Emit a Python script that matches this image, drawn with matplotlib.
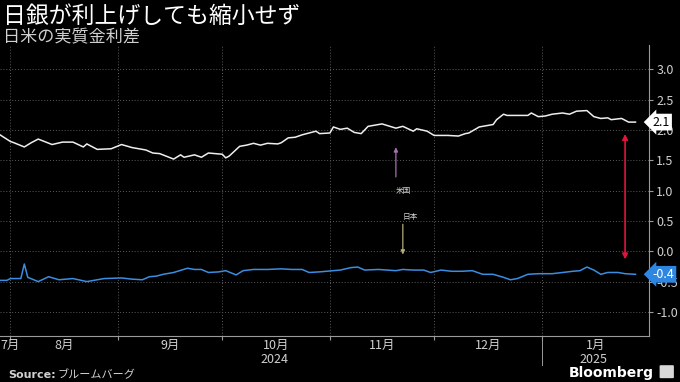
import pandas as pd
import numpy as np
import matplotlib.pyplot as plt
import matplotlib.patches as mpatches
import matplotlib.transforms as mtransforms

plt.rcParams['font.family'] = ['Noto Sans CJK JP', 'DejaVu Sans']

# US real rate (white line)
us_dates = ['2024-07-29', '2024-08-01', '2024-08-02', '2024-08-05', '2024-08-07', '2024-08-09',
            '2024-08-13', '2024-08-16', '2024-08-19', '2024-08-22', '2024-08-23', '2024-08-26',
            '2024-08-30', '2024-09-02', '2024-09-05', '2024-09-09', '2024-09-11', '2024-09-13',
            '2024-09-17', '2024-09-19', '2024-09-20', '2024-09-23', '2024-09-25', '2024-09-27',
            '2024-10-01', '2024-10-02', '2024-10-03', '2024-10-06', '2024-10-08', '2024-10-10',
            '2024-10-12', '2024-10-14', '2024-10-17', '2024-10-18', '2024-10-20', '2024-10-22',
            '2024-10-24', '2024-10-28', '2024-10-29', '2024-11-01', '2024-11-02', '2024-11-04',
            '2024-11-06', '2024-11-08', '2024-11-10', '2024-11-12', '2024-11-16', '2024-11-20',
            '2024-11-22', '2024-11-25', '2024-11-26', '2024-11-29', '2024-12-01', '2024-12-05',
            '2024-12-08', '2024-12-10', '2024-12-11', '2024-12-14', '2024-12-18', '2024-12-19',
            '2024-12-21', '2024-12-22', '2024-12-25', '2024-12-28', '2024-12-29', '2024-12-31',
            '2025-01-02', '2025-01-04', '2025-01-07', '2025-01-09', '2025-01-11', '2025-01-14',
            '2025-01-16', '2025-01-18', '2025-01-20', '2025-01-21', '2025-01-24', '2025-01-26',
            '2025-01-28']
us_values = [1.92, 1.81, 1.79, 1.72, 1.79, 1.85, 1.76, 1.80, 1.80, 1.72, 1.77, 1.68,
             1.69, 1.76, 1.71, 1.67, 1.62, 1.61, 1.52, 1.59, 1.55, 1.59, 1.55, 1.62,
             1.60, 1.54, 1.57, 1.73, 1.75, 1.78, 1.75, 1.78, 1.77, 1.79, 1.87, 1.88,
             1.92, 1.98, 1.94, 1.95, 2.05, 2.01, 2.03, 1.96, 1.94, 2.06, 2.10, 2.03,
             2.06, 1.98, 2.02, 1.98, 1.91, 1.91, 1.90, 1.94, 1.95, 2.05, 2.09, 2.17,
             2.26, 2.24, 2.24, 2.24, 2.28, 2.22, 2.23, 2.26, 2.28, 2.26, 2.31, 2.32,
             2.22, 2.19, 2.20, 2.17, 2.19, 2.13, 2.13]

# Japan real rate (blue line)
jp_dates = ['2024-07-29', '2024-07-31', '2024-08-01', '2024-08-04', '2024-08-05', '2024-08-06',
            '2024-08-09', '2024-08-12', '2024-08-15', '2024-08-19', '2024-08-23', '2024-08-28',
            '2024-09-02', '2024-09-05', '2024-09-08', '2024-09-10', '2024-09-12', '2024-09-14',
            '2024-09-17', '2024-09-21', '2024-09-23', '2024-09-25', '2024-09-27', '2024-09-30',
            '2024-10-02', '2024-10-05', '2024-10-07', '2024-10-10', '2024-10-14', '2024-10-18',
            '2024-10-21', '2024-10-24', '2024-10-26', '2024-10-29', '2024-11-02', '2024-11-04',
            '2024-11-07', '2024-11-09', '2024-11-11', '2024-11-15', '2024-11-20', '2024-11-22',
            '2024-11-25', '2024-11-28', '2024-11-30', '2024-12-03', '2024-12-06', '2024-12-09',
            '2024-12-12', '2024-12-15', '2024-12-18', '2024-12-21', '2024-12-23', '2024-12-25',
            '2024-12-28', '2024-12-31', '2025-01-04', '2025-01-07', '2025-01-10', '2025-01-12',
            '2025-01-14', '2025-01-16', '2025-01-18', '2025-01-20', '2025-01-23', '2025-01-25',
            '2025-01-28']
jp_values = [-0.48, -0.48, -0.45, -0.45, -0.21, -0.43, -0.50, -0.42, -0.47, -0.45, -0.50, -0.45,
             -0.44, -0.46, -0.47, -0.42, -0.41, -0.38, -0.35, -0.28, -0.30, -0.30, -0.35, -0.34,
             -0.32, -0.39, -0.32, -0.30, -0.30, -0.29, -0.30, -0.30, -0.35, -0.34, -0.32, -0.31,
             -0.27, -0.26, -0.31, -0.30, -0.32, -0.30, -0.31, -0.31, -0.35, -0.31, -0.33, -0.33,
             -0.32, -0.38, -0.38, -0.43, -0.47, -0.45, -0.38, -0.37, -0.37, -0.35, -0.33, -0.32,
             -0.26, -0.31, -0.38, -0.35, -0.35, -0.37, -0.38]

month_labels = ['7月', '8月', '9月', '10月', '11月', '12月', '1月']
month_starts = ['2024-08-01', '2024-09-01', '2024-10-01', '2024-11-01', '2024-12-01', '2025-01-01']
y_ticks = [-1.0, -0.5, 0.0, 0.5, 1.0, 1.5, 2.0, 2.5, 3.0]

us = pd.Series(us_values, index=pd.to_datetime(us_dates))
jp = pd.Series(jp_values, index=pd.to_datetime(jp_dates))

bg = 'black'
txt = '#d0d0d0'
grid = '#5a5a5a'

fig = plt.figure(figsize=(6.8, 3.82), dpi=100, facecolor=bg)
ax = fig.add_axes([0.0, 0.12, 0.955, 0.762], facecolor=bg)

ax.plot(us.index, us.values, color='#eeeeee', lw=1.1)
ax.plot(jp.index, jp.values, color='#3a8de0', lw=1.1)

x0 = pd.Timestamp('2024-07-29')
x1 = pd.Timestamp('2025-02-01')
ax.set_xlim(x0, x1)
ax.set_ylim(-1.4, 3.4)

# grid
for y in y_ticks:
    ax.axhline(y, color=grid, lw=0.7, ls=(0, (1, 2)), zorder=0)
for m in month_starts:
    ax.axvline(pd.Timestamp(m), color=grid, lw=0.7, ls=(0, (1, 2)), zorder=0)

# axes styling
for s in ['top', 'left']:
    ax.spines[s].set_visible(False)
ax.spines['right'].set_color('#9a9a9a')
ax.spines['bottom'].set_color('#9a9a9a')
ax.yaxis.tick_right()
ax.set_yticks(y_ticks)
ax.set_yticklabels([f'{v:.1f}' for v in y_ticks])
ax.tick_params(axis='y', colors='#9a9a9a', labelcolor=txt, labelsize=9, length=3, pad=2)
ax.set_xticks(pd.to_datetime(month_starts))
ax.set_xticklabels([])
ax.tick_params(axis='x', colors='#9a9a9a', length=3)

# month labels centered in each visible month
bounds = [x0] + list(pd.to_datetime(month_starts)) + [x1]
trans = mtransforms.blended_transform_factory(ax.transData, ax.transAxes)
for i, lab in enumerate(month_labels):
    a, b = bounds[i], bounds[i + 1]
    if i == 0:
        ax.text(a, -0.008, lab, transform=trans, ha='left', va='top', color=txt, fontsize=9)
    else:
        mid = a + (b - a) / 2
        ax.text(mid, -0.008, lab, transform=trans, ha='center', va='top', color=txt, fontsize=9)
ax.text(pd.Timestamp('2024-10-16'), -0.058, '2024', transform=trans, ha='center', va='top',
        color=txt, fontsize=9)
ax.text(pd.Timestamp('2025-01-16'), -0.058, '2025', transform=trans, ha='center', va='top',
        color=txt, fontsize=9)
ax.plot([pd.Timestamp('2025-01-01')] * 2, [-0.01, -0.10], transform=trans, color='#9a9a9a',
        lw=0.7, clip_on=False)

# annotations
ax.annotate('', xy=(pd.Timestamp('2025-01-25'), 1.98), xytext=(pd.Timestamp('2025-01-25'), -0.18),
            arrowprops=dict(arrowstyle='<|-|>', color='#e0143c', lw=1.2, mutation_scale=8))
ax.annotate('', xy=(pd.Timestamp('2024-11-20'), 1.76), xytext=(pd.Timestamp('2024-11-20'), 1.18),
            arrowprops=dict(arrowstyle='-|>', color='#a870b0', lw=0.9, mutation_scale=6))
ax.text(pd.Timestamp('2024-11-22'), 0.99, '米国', color=txt, fontsize=5.5, ha='center', va='center')
ax.text(pd.Timestamp('2024-11-24'), 0.57, '日本', color=txt, fontsize=5.5, ha='center', va='center')
ax.annotate('', xy=(pd.Timestamp('2024-11-22'), -0.10), xytext=(pd.Timestamp('2024-11-22'), 0.49),
            arrowprops=dict(arrowstyle='-|>', color='#b5ad78', lw=0.9, mutation_scale=6))

# end value tags
ax.text(1.005, (us.iloc[-1] + 1.4) / 4.8, f'{us.iloc[-1]:.1f}', transform=ax.transAxes,
        ha='left', va='center', fontsize=9, color='black',
        bbox=dict(boxstyle='larrow,pad=0.15', fc='white', ec='none'))
ax.text(1.005, (jp.iloc[-1] + 1.4) / 4.8, f'{jp.iloc[-1]:.1f}', transform=ax.transAxes,
        ha='left', va='center', fontsize=9, color='white',
        bbox=dict(boxstyle='larrow,pad=0.15', fc='#2f86e0', ec='none'))

# titles and footer
fig.text(0.004, 0.958, '日銀が利上げしても縮小せず', color='white', fontsize=16.5, ha='left', va='center')
fig.text(0.004, 0.903, '日米の実質金利差', color=txt, fontsize=12.3, ha='left', va='center')
fig.text(0.012, 0.004, 'Source:', color=txt, fontsize=8, fontweight='bold', ha='left', va='bottom',
         family='DejaVu Sans')
fig.text(0.085, 0.004, 'ブルームバーグ', color=txt, fontsize=8, ha='left', va='bottom')
fig.text(0.962, 0.004, 'Bloomberg', color='white', fontsize=10, fontweight='bold', ha='right',
         va='bottom', family='DejaVu Sans')
fig.patches.append(mpatches.FancyBboxPatch((0.972, 0.012), 0.017, 0.03, boxstyle='round,pad=0.002',
                                           transform=fig.transFigure, fc='#d8d8d8', ec='none'))

plt.savefig('out.png', dpi=100, facecolor=bg)
